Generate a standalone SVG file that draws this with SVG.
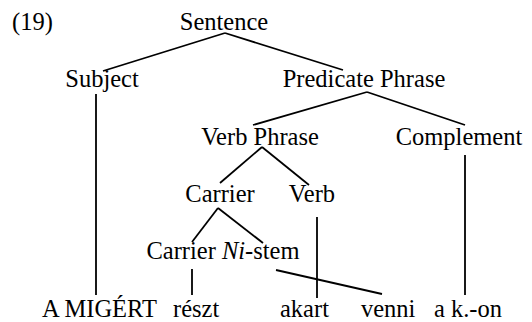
<svg xmlns="http://www.w3.org/2000/svg" width="532" height="322" viewBox="0 0 532 322">
<style>
text{font-family:"Liberation Serif","Times New Roman",serif;font-size:24.5px;fill:#000}
.c{text-anchor:middle}
line{stroke:#000;stroke-width:1.8}
</style>
<rect width="532" height="322" fill="#fff"/>
<text x="12" y="30">(19)</text>
<g id="n-sentence"><text class="c" x="224" y="30">Sentence</text></g>
<g id="n-subject"><text class="c" x="102" y="87">Subject</text></g>
<g id="n-pp"><text class="c" x="364" y="87">Predicate Phrase</text></g>
<g id="n-vp"><text class="c" x="260" y="145">Verb Phrase</text></g>
<g id="n-comp"><text class="c" x="459" y="145">Complement</text></g>
<g id="n-carrier"><text class="c" x="220" y="202">Carrier</text></g>
<g id="n-verb"><text class="c" x="312" y="202">Verb</text></g>
<g id="n-cni"><text class="c" x="223" y="259">Carrier <tspan font-style="italic">Ni</tspan>-stem</text></g>
<g id="w-amigert"><text x="42" y="317">A MIGÉRT</text></g>
<g id="w-reszt"><text x="173" y="317">részt</text></g>
<g id="w-akart"><text x="280" y="317">akart</text></g>
<g id="w-venni"><text x="361" y="317">venni</text></g>
<g id="w-akon"><text x="434" y="317">a k.-on</text></g>
<g id="connectors">
<line x1="225" y1="33" x2="103" y2="71"/>
<line x1="225" y1="33" x2="343" y2="70"/>
<line x1="367" y1="92" x2="253" y2="125"/>
<line x1="367" y1="92" x2="465" y2="125"/>
<line x1="96" y1="94" x2="96" y2="295"/>
<line x1="262" y1="147" x2="220" y2="183"/>
<line x1="262" y1="147" x2="309" y2="185"/>
<line x1="465" y1="155" x2="465" y2="295"/>
<line x1="218" y1="208" x2="192" y2="242"/>
<line x1="218" y1="208" x2="263" y2="243"/>
<line x1="317" y1="217" x2="317" y2="298"/>
<line x1="192" y1="269" x2="192" y2="295"/>
<line x1="276" y1="270" x2="382" y2="294"/>
</g>
</svg>
